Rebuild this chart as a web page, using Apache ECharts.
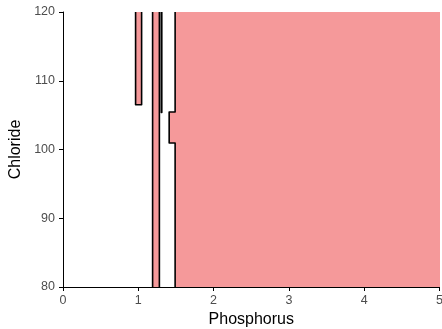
<!DOCTYPE html>
<html>
<head>
<meta charset="utf-8">
<script src="https://cdn.jsdelivr.net/npm/echarts@6/dist/echarts.min.js"></script>
<style>
html,body{margin:0;padding:0;background:#fff;}
#chart{width:442px;height:329px;}
</style>
</head>
<body>
<div id="chart"></div>
<script>
// Axis ranges and ticks
const xRange = [0, 5];
const yRange = [80, 120];
const xTickStep = 1;
const yTickStep = 10;

// Decision regions (polygon vertices in data units: [Phosphorus, Chloride])
const regionNarrow = [[0.964, 130], [1.044, 130], [1.044, 106.5], [0.964, 106.5]];
const regionBand = [[1.19, 70], [1.28, 70], [1.28, 130], [1.19, 130]];
const regionSliver = [[1.305, 130], [1.312, 130], [1.312, 105.4], [1.305, 105.4]];
const regionMain = [[1.489, 130], [5.5, 130], [5.5, 70], [1.489, 70], [1.489, 100.95], [1.41, 100.95], [1.41, 105.45], [1.489, 105.45]];

const regions = [regionNarrow, regionBand, regionSliver, regionMain];

const chart = echarts.init(document.getElementById('chart'), null, {renderer: 'canvas'});

const option = {
  backgroundColor: '#ffffff',
  animation: false,
  grid: {left: 63, right: 2.5, top: 12, bottom: 42, containLabel: false, outerBoundsMode: 'none'},
  xAxis: {
    type: 'value', min: xRange[0], max: xRange[1], interval: xTickStep,
    name: 'Phosphorus', nameLocation: 'middle', nameGap: 17,
    nameTextStyle: {color: '#000', fontSize: 16, fontFamily: 'Liberation Sans'},
    z: 10,
    axisLine: {show: true, lineStyle: {color: '#000', width: 1}},
    axisTick: {show: true, length: 4, lineStyle: {color: '#000', width: 1}},
    axisLabel: {color: '#4D4D4D', fontSize: 12.5, margin: 7, fontFamily: 'Liberation Sans'},
    splitLine: {show: false}
  },
  yAxis: {
    type: 'value', min: yRange[0], max: yRange[1], interval: yTickStep,
    name: 'Chloride', nameLocation: 'middle', nameGap: 37, nameRotate: 90,
    nameTextStyle: {color: '#000', fontSize: 16, fontFamily: 'Liberation Sans'},
    z: 10,
    axisLine: {show: true, lineStyle: {color: '#000', width: 1}},
    axisTick: {show: true, length: 4, lineStyle: {color: '#000', width: 1}},
    axisLabel: {color: '#4D4D4D', fontSize: 12.5, margin: 8, fontFamily: 'Liberation Sans'},
    splitLine: {show: false}
  },
  series: [{
    type: 'custom',
    clip: true,
    z: 2,
    data: regions.map((r, i) => [i]),
    renderItem: function (params, api) {
      const poly = regions[api.value(0)];
      const pts = poly.map(p => api.coord(p));
      return {
        type: 'polygon',
        shape: {points: pts},
        style: {fill: '#F5999A', stroke: '#000', lineWidth: 1.6, lineJoin: 'round'}
      };
    }
  }]
};
chart.setOption(option);
</script>
</body>
</html>
